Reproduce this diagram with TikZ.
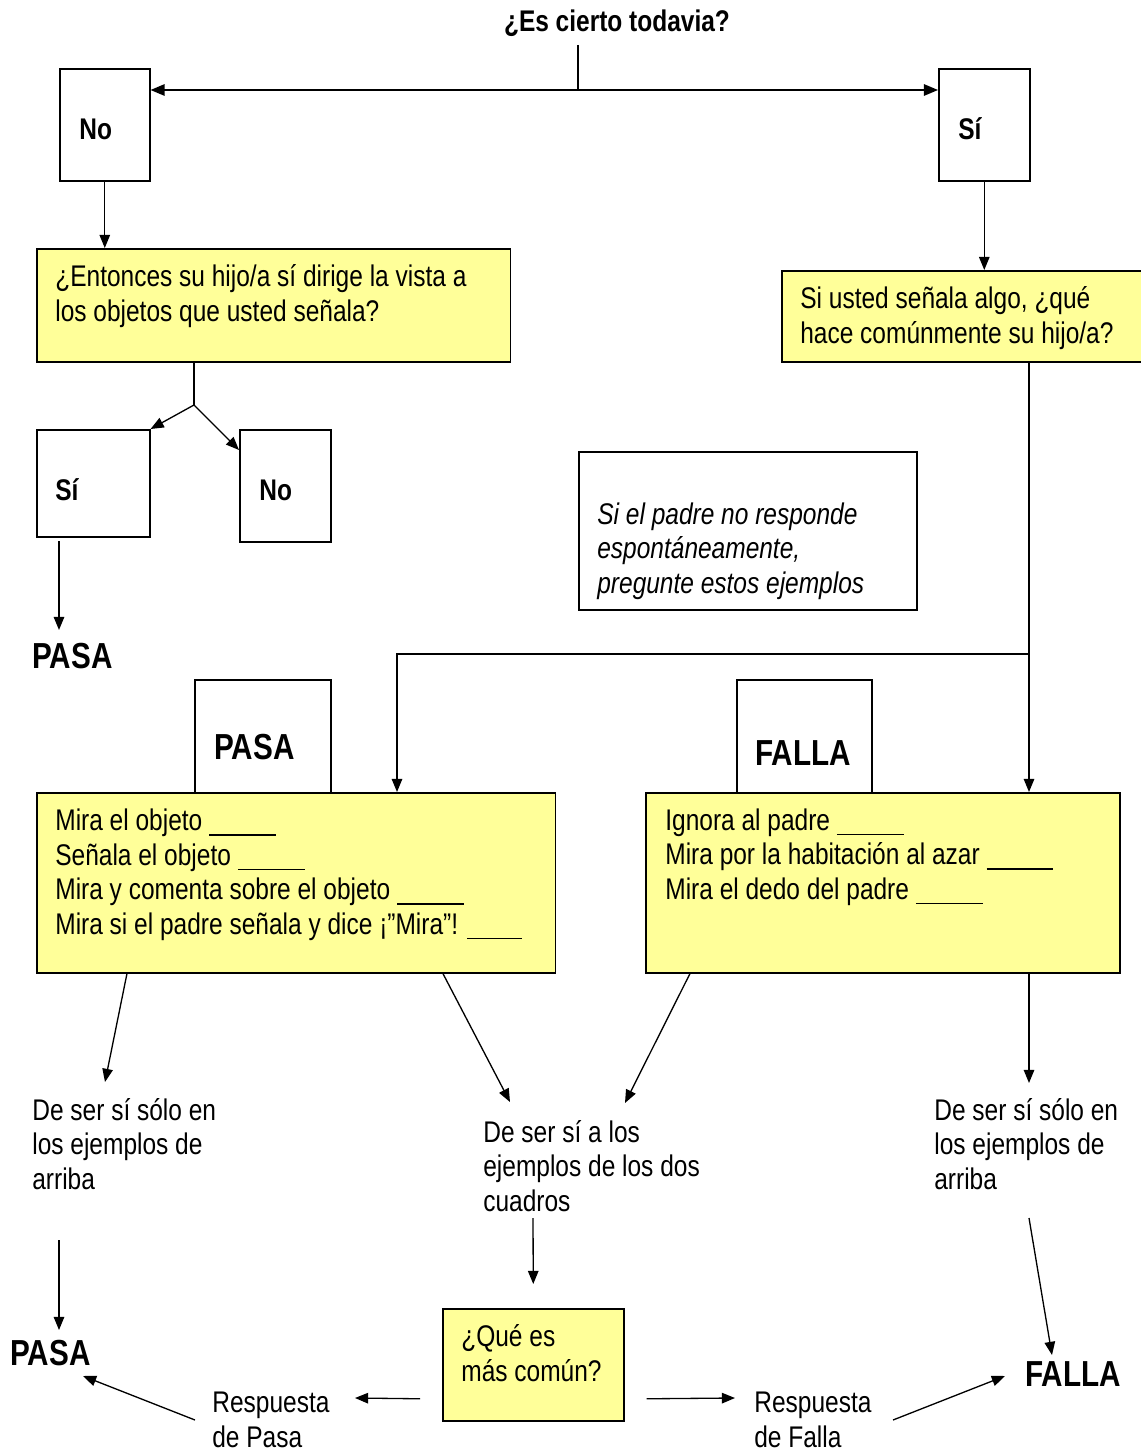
\documentclass[tikz,border=0pt]{standalone}
\usepackage{fontspec}
\setmainfont{Liberation Sans}[FakeStretch=0.82]
\usetikzlibrary{arrows.meta}
\definecolor{paleyellow}{HTML}{FFFF99}

\newcommand{\txt}{\fontsize{17pt}{19.6pt}\selectfont}
\newcommand{\bigtxt}{\fontsize{20.6pt}{24pt}\selectfont\bfseries}
\newcommand{\blank}[1][38pt]{\rule[-3pt]{#1}{0.9pt}}

\tikzset{
	every node/.style={inner sep=0pt, font=\txt},
	box/.style={draw, line width=0.9pt, inner sep=0pt, anchor=north west},
	ybox/.style={box, fill=paleyellow},
	lbl/.style={anchor=base west, align=left},
	line/.style={line width=0.7pt},
	arr/.style={-{Triangle[length=7.5pt,width=6pt]}, line width=0.75pt},
	dbl/.style={{Triangle[length=8pt,width=6.5pt]}-{Triangle[length=8pt,width=6.5pt]}, line width=0.9pt},
}

\begin{document}
\begin{tikzpicture}[x=0.02cm, y=-0.02cm]
	\useasboundingbox (0,0) rectangle (1140,1453);

	% first question (multi-line labels sit on their last baseline)
	\node[font=\txt\bfseries, anchor=base] (title) at (617,32) {¿Es cierto todavia?};
	\node[box, minimum width=1.8cm, minimum height=2.24cm] (no1) at (59,68) {};
	\node[lbl, font=\txt\bfseries] (no1-t) at (79,140) {No};
	\node[box, minimum width=1.82cm, minimum height=2.24cm] (si1) at (938,68) {};
	\node[lbl, font=\txt\bfseries] (si1-t) at (958,140) {Sí};

	\coordinate (stem) at (578,45);
	\coordinate (split) at (578,90);
	\draw[line] (stem) -- (split);
	\draw[dbl] (no1.east |- split) -- (si1.west |- split);

	% left side: No
	\node[ybox, minimum width=9.48cm, minimum height=2.26cm] (q1) at (36,248) {};
	\node[lbl] (q1-t) at (55,321) {¿Entonces su hijo/a sí dirige la vista a\\los objetos que usted señala?};
	\draw[arr] (no1.south) -- (no1.south |- q1.north);

	\node[box, minimum width=2.26cm, minimum height=2.14cm] (si2) at (36,429) {};
	\node[lbl, font=\txt\bfseries] (si2-t) at (55,500) {Sí};
	\node[box, minimum width=1.82cm, minimum height=2.24cm] (no2) at (239,429) {};
	\node[lbl, font=\txt\bfseries] (no2-t) at (259,500) {No};

	\coordinate (fork) at (194,405);
	\draw[line] (q1.south -| fork) -- (fork);
	\draw[arr] (fork) -- (si2.north east);
	\draw[arr] (fork) -- ([yshift=-0.42cm]no2.north west);

	\node[lbl, font=\bigtxt] (pasa1) at (32,668) {PASA};
	\coordinate (si2-out) at (59,541);
	\coordinate (pasa1-in) at (59,630);
	\draw[arr] (si2-out) -- (pasa1-in);

	% right side: Si
	\node[ybox, minimum width=7.28cm, minimum height=1.82cm] (q2) at (781,270) {};
	\node[lbl] (q2-t) at (800,343) {Si usted señala algo, ¿qué\\hace comúnmente su hijo/a?};
	\draw[arr] (si1.south) -- (si1.south |- q2.north);

	\node[box, minimum width=6.76cm, minimum height=3.16cm] (note) at (578,451) {};
	\node[lbl, font=\txt\itshape] (note-t) at (597,593) {Si el padre no responde\\espontáneamente,\\pregunte estos ejemplos};

	% example boxes
	\node[box, minimum width=2.72cm, minimum height=2.26cm] (tabP) at (194,679) {};
	\node[lbl, font=\bigtxt] (tabP-t) at (214,759) {PASA};
	\node[box, minimum width=2.7cm, minimum height=2.26cm] (tabF) at (736,679) {};
	\node[lbl, font=\bigtxt] (tabF-t) at (755,765) {FALLA};

	\node[ybox, minimum width=10.38cm, minimum height=3.6cm] (exP) at (36,792) {};
	\node[lbl] (exP-t) at (55,934) {Mira el objeto \blank\\Señala el objeto \blank\\Mira y comenta sobre el objeto \blank\\Mira si el padre señala y dice ¡”Mira”! \blank[31pt]};
	\node[ybox, minimum width=9.48cm, minimum height=3.6cm] (exF) at (645,792) {};
	\node[lbl] (exF-t) at (665,899) {Ignora al padre \blank\\Mira por la habitación al azar \blank\\Mira el dedo del padre \blank};

	\coordinate (rjoin) at (1029,654);
	\coordinate (ljoin) at (397,654);
	\draw[arr] (q2.south -| rjoin) -- (rjoin |- exF.north);
	\draw[arr] (rjoin) -- (ljoin) -- (ljoin |- exP.north);

	% outcomes
	\node[lbl] (onlyP) at (32,1189) {De ser sí sólo en\\los ejemplos de\\arriba};
	\node[lbl] (both) at (483,1211) {De ser sí a los\\ejemplos de los dos\\cuadros};
	\node[lbl] (onlyF) at (934,1189) {De ser sí sólo en\\los ejemplos de\\arriba};

	\coordinate (onlyP-in) at (105,1082);
	\coordinate (bothP-in) at (510,1102);
	\coordinate (bothF-in) at (625,1103);
	\coordinate (onlyF-in) at (1029,1083);
	\draw[arr] ([xshift=1.82cm]exP.south west) -- (onlyP-in);
	\draw[arr] ([xshift=8.14cm]exP.south west) -- (bothP-in);
	\draw[arr] ([xshift=0.9cm]exF.south west) -- (bothF-in);
	\draw[arr] (exF.south -| rjoin) -- (onlyF-in);

	% last row
	\node[lbl, font=\bigtxt] (pasa2) at (10,1365) {PASA};
	\node[lbl, font=\bigtxt] (falla2) at (1025,1386) {FALLA};
	\node[ybox, minimum width=3.62cm, minimum height=2.24cm] (common) at (442,1308) {};
	\node[lbl] (common-t) at (461,1381) {¿Qué es\\más común?};
	\node[lbl] (respP) at (212,1447) {Respuesta\\de Pasa};
	\node[lbl] (respF) at (754,1447) {Respuesta\\de Falla};

	\coordinate (onlyP-out) at (59,1240);
	\coordinate (pasa2-in) at (59,1330);
	\coordinate (both-out) at (533,1218);
	\coordinate (onlyF-out) at (1029,1218);
	\coordinate (falla2-in) at (1052,1355);
	\draw[arr] (onlyP-out) -- (pasa2-in);
	\draw[arr] (both-out) -- ([yshift=0.48cm]common.north);
	\draw[arr] (onlyF-out) -- (falla2-in);

	\coordinate (respP-in) at (355,1398);
	\coordinate (respF-in) at (735,1398);
	\coordinate (respP-out) at (195,1420);
	\coordinate (pasa2-back) at (83,1376);
	\coordinate (respF-out) at (893,1420);
	\coordinate (falla2-back) at (1005,1376);
	\draw[arr] ([shift={(-22,34)}]common.west) -- (respP-in);
	\draw[arr] ([shift={(22,34)}]common.east) -- (respF-in);
	\draw[arr] (respP-out) -- (pasa2-back);
	\draw[arr] (respF-out) -- (falla2-back);

\end{tikzpicture}
\end{document}
